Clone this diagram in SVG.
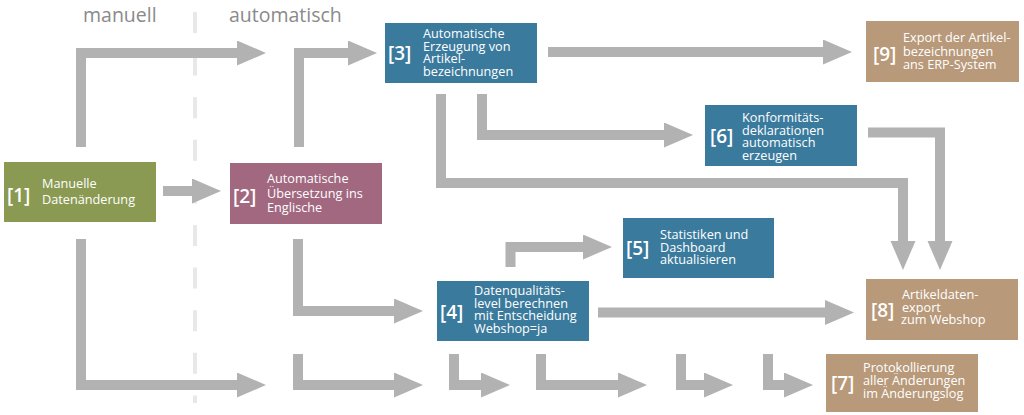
<svg xmlns="http://www.w3.org/2000/svg" width="1024" height="415" viewBox="0 0 1024 415">
<style>
.hdr{font-family:"Open Sans","Liberation Sans",sans-serif;font-size:19.5px;fill:#8a8a8a}
.t{font-family:"Open Sans","Liberation Sans",sans-serif;font-size:12.7px;fill:#ffffff}
.n{font-family:"Open Sans","Liberation Sans",sans-serif;font-size:19px;font-weight:600;fill:#ffffff}
.blue{fill:#3a7a9d}
.tan{fill:#b8997a}
.green{fill:#8a9a52}
.mauve{fill:#a16880}
.c{fill:none;stroke:#b2b2b2;stroke-width:10;stroke-linejoin:miter}
</style>
<defs>
<marker id="ah" markerUnits="userSpaceOnUse" markerWidth="30" markerHeight="26" refX="1" refY="12.5" orient="auto">
<path d="M0,0 L29,12.5 L0,25 z" fill="#b2b2b2"/>
</marker>
</defs>
<rect width="1024" height="415" fill="#ffffff"/>
<g id="lanes">
<text class="hdr" x="83" y="22">manuell</text>
<text class="hdr" x="229" y="22">automatisch</text>
<line x1="195" y1="12" x2="195" y2="403" stroke="#e8e8e8" stroke-width="4" stroke-dasharray="21 21.6"/>
</g>
<g id="connectors">
<path class="c" marker-end="url(#ah)" d="M81,147 V53 H238"/>
<path class="c" marker-end="url(#ah)" d="M299,147 V53 H349"/>
<path class="c" marker-end="url(#ah)" d="M163,191 H193"/>
<path class="c" marker-end="url(#ah)" d="M81,239 V385 H238"/>
<path class="c" marker-end="url(#ah)" d="M298,239 V311 H395"/>
<path class="c" marker-end="url(#ah)" d="M298,354 V385 H395"/>
<path class="c" marker-end="url(#ah)" d="M454,354 V385 H482"/>
<path class="c" marker-end="url(#ah)" d="M541,354 V385 H619"/>
<path class="c" marker-end="url(#ah)" d="M681,354 V385 H705"/>
<path class="c" marker-end="url(#ah)" d="M768,354 V385 H785"/>
<path class="c" marker-end="url(#ah)" d="M548,52 H824"/>
<path class="c" marker-end="url(#ah)" d="M482,94 V135 H665"/>
<path class="c" marker-end="url(#ah)" d="M441,94 V183 H903 V242"/>
<path class="c" marker-end="url(#ah)" d="M868,132.5 H940 V242"/>
<path class="c" marker-end="url(#ah)" d="M510.5,267 V247 H584"/>
<path class="c" marker-end="url(#ah)" d="M598,312.5 H826"/>
</g>
<g id="node1">
<rect class="green" x="4" y="162" width="152" height="60"/>
<text class="n" x="7" y="202">[1]</text>
<text class="t" x="42" y="188">Manuelle</text>
<text class="t" x="42" y="204">Datenänderung</text>
</g>
<g id="node2">
<rect class="mauve" x="230" y="163" width="152" height="61"/>
<text class="n" x="233" y="203">[2]</text>
<text class="t" x="267" y="183">Automatische</text>
<text class="t" x="267" y="197.5">Übersetzung ins</text>
<text class="t" x="267" y="212">Englische</text>
</g>
<g id="node3">
<rect class="blue" x="385" y="23" width="152" height="60"/>
<text class="n" x="388" y="60">[3]</text>
<text class="t" x="423" y="38">Automatische</text>
<text class="t" x="423" y="50.7">Erzeugung von</text>
<text class="t" x="423" y="63.4">Artikel-</text>
<text class="t" x="423" y="76">bezeichnungen</text>
</g>
<g id="node4">
<rect class="blue" x="437" y="281" width="152" height="60"/>
<text class="n" x="440" y="319">[4]</text>
<text class="t" x="474" y="295">Datenqualitäts-</text>
<text class="t" x="474" y="307.7">level berechnen</text>
<text class="t" x="474" y="320.4">mit Entscheidung</text>
<text class="t" x="474" y="333">Webshop=ja</text>
</g>
<g id="node5">
<rect class="blue" x="623" y="218" width="151" height="60"/>
<text class="n" x="626" y="255">[5]</text>
<text class="t" x="660" y="239">Statistiken und</text>
<text class="t" x="660" y="251.7">Dashboard</text>
<text class="t" x="660" y="264.4">aktualisieren</text>
</g>
<g id="node6">
<rect class="blue" x="705" y="105" width="152" height="61"/>
<text class="n" x="710" y="143">[6]</text>
<text class="t" x="742" y="122">Konformitäts-</text>
<text class="t" x="742" y="134.5">deklarationen</text>
<text class="t" x="742" y="147">automatisch</text>
<text class="t" x="742" y="159.5">erzeugen</text>
</g>
<g id="node7">
<rect class="tan" x="826" y="354" width="152" height="58"/>
<text class="n" x="831" y="390">[7]</text>
<text class="t" x="863" y="372">Protokollierung</text>
<text class="t" x="863" y="385">aller Änderungen</text>
<text class="t" x="863" y="398">im Änderungslog</text>
</g>
<g id="node8">
<rect class="tan" x="866" y="279" width="152" height="61"/>
<text class="n" x="871" y="317">[8]</text>
<text class="t" x="902" y="299">Artikeldaten-</text>
<text class="t" x="902" y="311.5">export</text>
<text class="t" x="901" y="324">zum Webshop</text>
</g>
<g id="node9">
<rect class="tan" x="866" y="21" width="153" height="61"/>
<text class="n" x="873" y="61">[9]</text>
<text class="t" x="903" y="42">Export der Artikel-</text>
<text class="t" x="903" y="55.5">bezeichnungen</text>
<text class="t" x="903" y="69">ans ERP-System</text>
</g>
</svg>
